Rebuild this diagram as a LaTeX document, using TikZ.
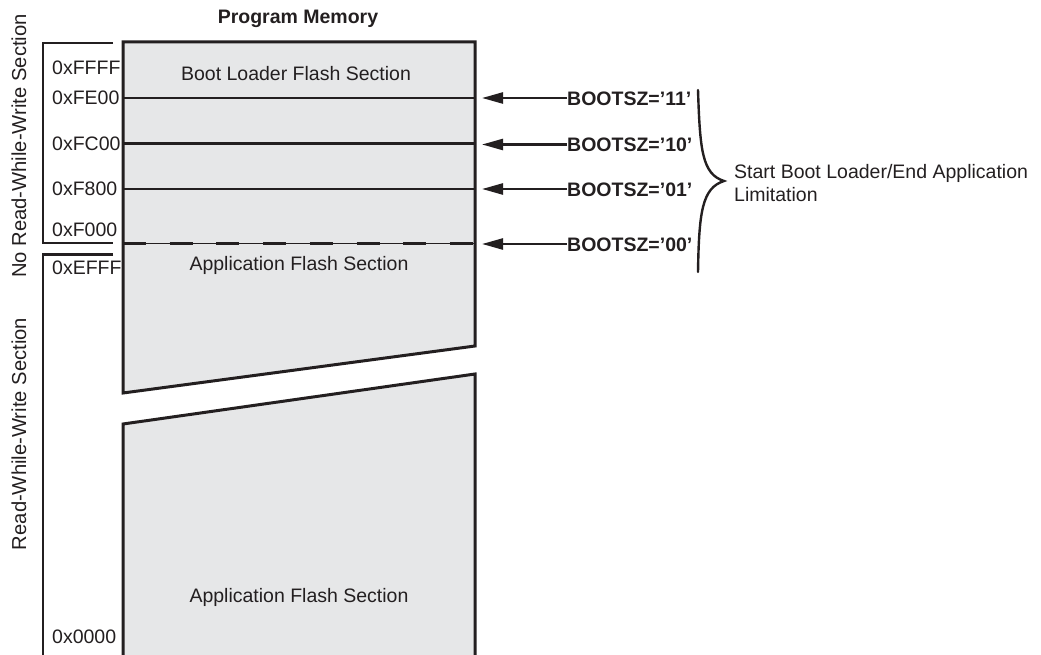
\documentclass[tikz,border=0pt]{standalone}
\usepackage{fontspec}
\setmainfont{Liberation Sans}
\usetikzlibrary{arrows.meta}
\definecolor{boxfill}{HTML}{E6E7E8}
\definecolor{ink}{HTML}{231F20}
\tikzset{
  txt/.style={font=\fontsize{19.5}{23}\selectfont, inner sep=0pt, text=ink},
  btxt/.style={txt, font=\fontsize{19.5}{23}\selectfont\bfseries},
  sidetxt/.style={txt, font=\fontsize{20.2}{24}\selectfont, rotate=90},
  addr/.style={txt, anchor=west},
  border/.style={draw=ink, line width=3pt, line join=miter},
  divider/.style={draw=ink, line width=2.6pt},
  bracket/.style={draw=ink, line width=2.8pt, line join=miter},
  ptr/.style={draw=ink, line width=2.4pt, -{Triangle[length=21pt,width=11pt]}},
}
\begin{document}
\begin{tikzpicture}[x=1pt,y=-1pt]
\useasboundingbox (0,0) rectangle (1041,655);

% upper block
\fill[boxfill] (123,42) -- (475,42) -- (475,346) -- (123,393) -- cycle;
% lower block
\fill[boxfill] (123,424) -- (475,374) -- (475,656) -- (123,656) -- cycle;

% dividers
\coordinate (l11) at (123,98);   \coordinate (r11) at (475,98);
\coordinate (l10) at (123,143.5);\coordinate (r10) at (475,143.5);
\coordinate (l01) at (123,189);  \coordinate (r01) at (475,189);
\coordinate (l00) at (123,243.5);\coordinate (r00) at (475,243.5);
\draw[divider] (l11) -- (r11);
\draw[divider] (l10) -- (r10);
\draw[divider] (l01) -- (r01);
\draw[draw=ink, line width=1pt] (l00) -- (r00);
\draw[draw=ink, line width=3.2pt, dash pattern=on 23pt off 23.7pt] (l00) -- (r00);

% borders
\draw[border] (123,393) -- (123,42) -- (475,42) -- (475,346) -- cycle;
\draw[border] (123,657) -- (123,424) -- (475,374) -- (475,657);

% brackets
\draw[bracket] (113,43) -- (43,43) -- (43,243) -- (113,243);
\draw[bracket] (113,254.5) -- (43,254.5) -- (43,657);

% side labels
\node[sidetxt] (nrww) at (19,146) {No Read-While-Write Section};
\node[sidetxt] (rww) at (19,434) {Read-While-Write Section};

% title and section names
\node[btxt] (title) at (298,19) {Program Memory};
\node[txt] (boot) at (296,74) {Boot Loader Flash Section};
\node[txt] (app1) at (299,265) {Application Flash Section};
\node[txt] (app2) at (299,597) {Application Flash Section};

% addresses
\node[addr] (aFFFF) at (52,68) {0xFFFF};
\node[addr] (aFE00) at (52,98) {0xFE00};
\node[addr] (aFC00) at (52,144) {0xFC00};
\node[addr] (aF800) at (52,189) {0xF800};
\node[addr] (aF000) at (52,230) {0xF000};
\node[addr] (aEFFF) at (52,268) {0xEFFF};
\node[addr] (a0000) at (52,637) {0x0000};

% BOOTSZ labels and arrows
\node[btxt, anchor=west] (b11) at (567,99) {BOOTSZ=’11’};
\node[btxt, anchor=west] (b10) at (567,145) {BOOTSZ=’10’};
\node[btxt, anchor=west] (b01) at (567,190) {BOOTSZ=’01’};
\node[btxt, anchor=west] (b00) at (567,245) {BOOTSZ=’00’};
\coordinate (t11) at (482,98);
\coordinate (t10) at (482,144.5);
\coordinate (t01) at (482,189);
\coordinate (t00) at (482,244);
\draw[ptr] (b11.west |- t11) -- (t11);
\draw[ptr] (b10.west |- t10) -- (t10);
\draw[ptr] (b01.west |- t01) -- (t01);
\draw[ptr] (b00.west |- t00) -- (t00);

% brace
\coordinate (btop) at (698,90);
\coordinate (btip) at (724,181);
\coordinate (bbot) at (698,272);
\draw[draw=ink, line width=2.4pt, line cap=round]
  (btop) .. controls (700,150) and (702,174) .. (btip)
  .. controls (702,188) and (699,212) .. (bbot);
\node[txt, anchor=west, align=left] (limit) at (734,183)
  {Start Boot Loader/End Application\\Limitation};
\end{tikzpicture}
\end{document}
